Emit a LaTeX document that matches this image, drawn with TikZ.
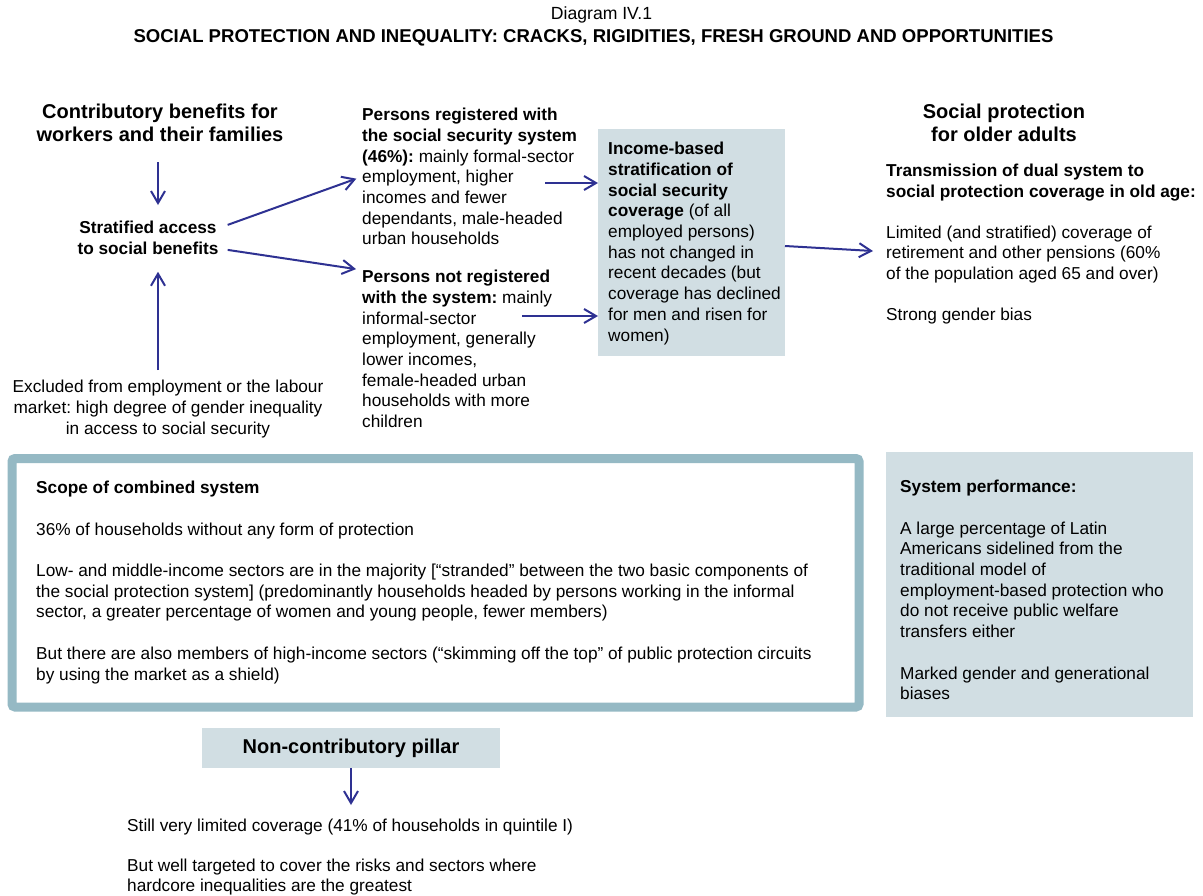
\documentclass[tikz,border=0pt]{standalone}
\usepackage{fontspec}
\setmainfont{Liberation Sans}
\usetikzlibrary{arrows.meta}
\definecolor{arrowblue}{RGB}{46,49,146}
\definecolor{panel}{RGB}{209,222,227}
\definecolor{framec}{RGB}{149,185,196}
\newcommand\bodyfont{\fontsize{17.25}{20.7}\selectfont}
\newcommand\headfont{\fontsize{20}{23}\selectfont\bfseries}
\frenchspacing
\begin{document}
\begin{tikzpicture}[x=1pt,y=-1pt,
  txt/.style={inner sep=0pt, align=left, anchor=north west, font=\bodyfont},
  ctxt/.style={inner sep=0pt, align=center, anchor=north, font=\bodyfont},
  arr/.style={draw=arrowblue, line width=2pt, -{Straight Barb[length=12pt,width=14pt]}},
  panelbox/.style={fill=panel, inner sep=0pt, outer sep=0pt, anchor=north west}]

\useasboundingbox (0,0) rectangle (1203,895);
\fill[white] (0,0) rectangle (1203,895);

% title
\node[font=\fontsize{17.6}{22}\selectfont, inner sep=0pt] (t1) at (601.5,15) {Diagram IV.1};
\node[font=\fontsize{18.55}{22}\selectfont\bfseries, inner sep=0pt] (t2) at (593.5,38)
  {SOCIAL PROTECTION AND INEQUALITY: CRACKS, RIGIDITIES, FRESH GROUND AND OPPORTUNITIES};

% contributory pillar
\node[ctxt, font=\headfont] (head1) at (160,104) {Contributory benefits for\\workers and their families};
\node[ctxt, font=\bodyfont\bfseries] (strat) at (148,221) {Stratified access\\to social benefits};
\node[ctxt] (excl) at (168,380) {Excluded from employment or the labour\\market: high degree of gender inequality\\in access to social security};

\node[txt] (reg) at (362,108) {\textbf{Persons registered with}\\\textbf{the social security system}\\\textbf{(46\%):} mainly formal-sector\\employment, higher\\incomes and fewer\\dependants, male-headed\\urban households};
\node[txt] (nreg) at (362,270) {\textbf{Persons not registered}\\\textbf{with the system:} mainly\\informal-sector\\employment, generally\\lower incomes,\\female-headed urban\\households with more\\children};

\node[panelbox, minimum width=187pt, minimum height=227pt] (incbox) at (598,129) {};
\node[txt] (inc) at (608,142) {\textbf{Income-based}\\\textbf{stratification of}\\\textbf{social security}\\\textbf{coverage} (of all\\employed persons)\\has not changed in\\recent decades (but\\coverage has declined\\for men and risen for\\women)};

% old age
\node[ctxt, font=\headfont] (head2) at (1004,104) {Social protection\\for older adults};
\node[txt, font=\fontsize{17.25}{20.5}\selectfont] (old) at (886,164) {\textbf{Transmission of dual system to}\\\textbf{social protection coverage in old age:}\\[20.5pt]Limited (and stratified) coverage of\\retirement and other pensions (60\%\\of the population aged 65 and over)\\[20.5pt]Strong gender bias};

% combined system
\node[draw=framec, line width=9pt, rounded corners=3pt, anchor=north west, inner sep=0pt, outer sep=0pt,
  minimum width=847pt, minimum height=248.5pt] (frame) at (12,458.5) {};
\node[txt] (scope) at (36,481) {\textbf{Scope of combined system}\\[20.7pt]36\% of households without any form of protection\\[20.7pt]Low- and middle-income sectors are in the majority [“stranded” between the two basic components of\\the social protection system] (predominantly households headed by persons working in the informal\\sector, a greater percentage of women and young people, fewer members)\\[20.7pt]But there are also members of high-income sectors (“skimming off the top” of public protection circuits\\by using the market as a shield)};

\node[panelbox, minimum width=307pt, minimum height=265pt] (perfbox) at (886,452) {};
\node[txt] (perf) at (900,480) {\textbf{System performance:}\\[20.7pt]A large percentage of Latin\\Americans sidelined from the\\traditional model of\\employment-based protection who\\do not receive public welfare\\transfers either\\[20.7pt]Marked gender and generational\\biases};

% non-contributory pillar
\node[fill=panel, minimum width=298pt, minimum height=40pt, font=\headfont, inner sep=0pt, outer sep=0pt] (nc) at (351,748) {Non-contributory pillar};
\node[txt, font=\fontsize{17.25}{20}\selectfont] (still) at (127,819) {Still very limited coverage (41\% of households in quintile I)\\[20pt]But well targeted to cover the risks and sectors where\\hardcore inequalities are the greatest};

% connectors
\coordinate (regout) at (545,183);
\coordinate (nregout) at (522,316);
\coordinate (oldin) at (873,251);
\draw[arr] ([xshift=-2pt,yshift=-20pt]head1.south) -- ([xshift=10pt,yshift=16pt]strat.north);
\draw[arr] ([xshift=-10pt,yshift=10pt]excl.north) -- ([xshift=10pt,yshift=-17pt]strat.south);
\draw[arr, shorten >=6pt] ([xshift=9pt,yshift=13pt]strat.east) -- (reg.west);
\draw[arr, shorten >=6pt] ([xshift=9pt,yshift=-12pt]strat.east) -- (nreg.north west);
\draw[arr] (regout) -- (regout -| incbox.west);
\draw[arr] (nregout) -- (nregout -| incbox.west);
\draw[arr] ([yshift=-3.5pt]incbox.east) -- (oldin);
\draw[arr] (nc.south) -- ++(0,37);
\end{tikzpicture}
\end{document}
